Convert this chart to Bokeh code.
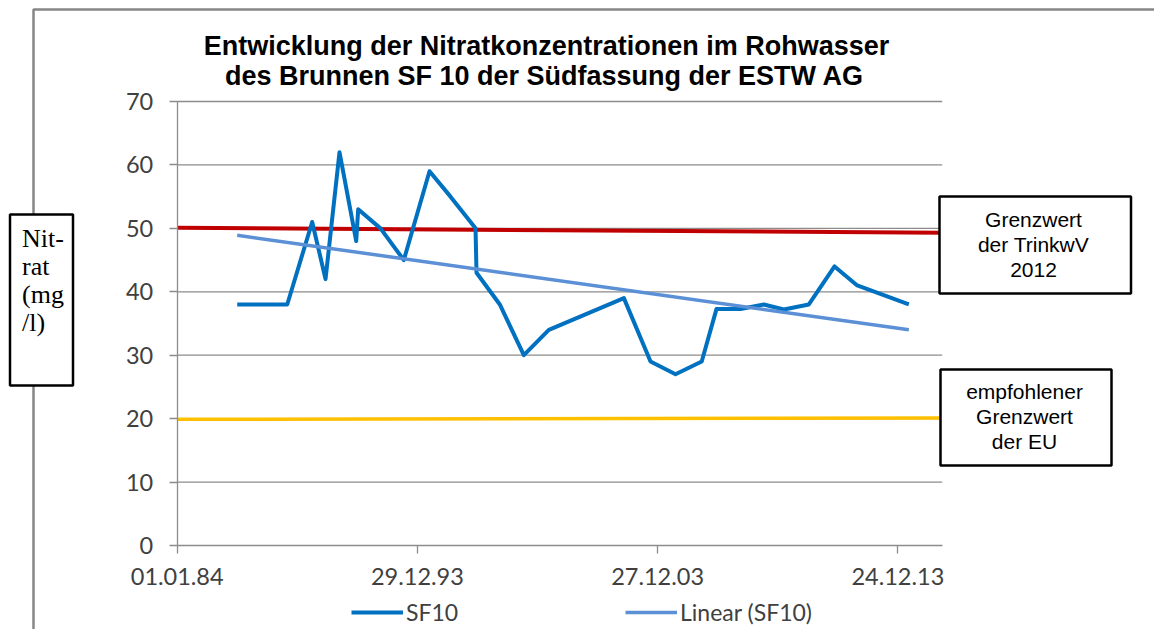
import pandas as pd
from bokeh.plotting import figure
from bokeh.models import (Range1d, FixedTicker, DatetimeTickFormatter, Label,
                          BoxAnnotation, Legend, LegendItem, ColumnDataSource)
from bokeh.embed import file_html
from bokeh.resources import INLINE

# ---------------- data ----------------
title_lines = ["Entwicklung der Nitratkonzentrationen im Rohwasser",
               "des Brunnen SF 10 der Südfassung der ESTW AG"]

sf10_dates = ["1986-07-01", "1988-07-30", "1989-08-13", "1990-03-04", "1990-10-02",
              "1991-06-13", "1991-07-13", "1992-06-16", "1993-06-05", "1994-07-01",
              "1995-05-16", "1996-05-30", "1996-06-14", "1997-06-03", "1998-06-03",
              "1999-06-18", "2002-08-01", "2003-09-10", "2004-09-24", "2005-10-27",
              "2006-06-09", "2007-06-09", "2008-05-28", "2009-03-28", "2010-04-12",
              "2011-05-07", "2012-04-16", "2014-06-09"]
sf10_values = [38, 38, 51, 42, 62,
               48, 53, 50, 45, 59,
               55, 50, 43, 38, 30,
               34, 39, 29, 27, 29,
               37.3, 37.3, 38, 37.2, 38,
               44, 41, 38]

trend_dates = ["1986-07-01", "2014-06-09"]
trend_values = [48.9, 34.0]

trinkwv_dates = ["1984-01-01", "2015-10-29"]
trinkwv_values = [50.1, 49.3]

eu_dates = ["1984-01-01", "2015-10-29"]
eu_values = [19.9, 20.1]

x_axis_dates = ["1984-01-01", "2015-10-29"]
x_tick_dates = ["1984-01-01", "1993-12-29", "2003-12-27", "2013-12-24"]
y_ticks = [0, 10, 20, 30, 40, 50, 60, 70]
y_axis_limits = [0, 70]

ylabel_lines = ["Nit-", "rat", "(mg", "/l)"]
box1_lines = ["Grenzwert", "der TrinkwV", "2012"]
box2_lines = ["empfohlener", "Grenzwert", "der EU"]
legend_labels = ["SF10", "Linear (SF10)"]

# ---------------- layout (pixel geometry of the chart) ----------------
W, H = 1154, 629
PX_LEFT, PX_RIGHT = 176.7, 941.7     # x-axis extent in canvas px
PX_BOTTOM, PX_TOP = 545.0, 101.0      # y = 0 and y = 70 in canvas px


def ms(d):
    return pd.Timestamp(d).value / 1e6


x0, x1 = ms(x_axis_dates[0]), ms(x_axis_dates[1])
mpp = (x1 - x0) / (PX_RIGHT - PX_LEFT)
y0, y1 = y_axis_limits
upp = (y1 - y0) / (PX_BOTTOM - PX_TOP)

p = figure(width=W, height=H, x_axis_type="datetime",
           x_range=Range1d(x0 - PX_LEFT * mpp, x0 + (W - PX_LEFT) * mpp),
           y_range=Range1d(y0 - (H - PX_BOTTOM) * upp, y0 + PX_BOTTOM * upp),
           output_backend="svg", toolbar_location=None,
           min_border=0, min_border_left=0, min_border_right=0,
           min_border_top=0, min_border_bottom=0)
p.outline_line_color = None
p.background_fill_color = "white"
p.border_fill_color = "white"
p.xgrid.visible = False
p.ygrid.visible = False


def sx(X):
    return X


def sy(Y):
    return H - Y


GRAY = "#8c8c8c"
TICKCOL = "#404040"

# axes, fixed at the data origin
xa, ya = p.xaxis[0], p.yaxis[0]
xa.fixed_location = y0
ya.fixed_location = x0
xa.bounds = (x0, x1)
ya.bounds = (y0, y1)
xa.ticker = FixedTicker(ticks=[ms(d) for d in x_tick_dates])
fmt = "%d.%m.%y"
xa.formatter = DatetimeTickFormatter(
    microseconds=fmt, milliseconds=fmt, seconds=fmt, minsec=fmt, minutes=fmt,
    hourmin=fmt, hours=fmt, days=fmt, months=fmt, years=fmt)
ya.ticker = FixedTicker(ticks=y_ticks)
for ax in (xa, ya):
    ax.axis_line_color = GRAY
    ax.axis_line_width = 1.3
    ax.major_tick_line_color = GRAY
    ax.major_tick_line_width = 1.3
    ax.major_tick_out = 8
    ax.major_tick_in = 0
    ax.minor_tick_line_color = None
    ax.major_label_text_font = "Lato"
    ax.major_label_text_font_size = "23.5px"
    ax.major_label_text_color = TICKCOL
ya.major_label_standoff = 16
xa.major_label_standoff = 14

# horizontal grid lines at the y ticks, spanning the x-axis extent
grid_y = [t for t in y_ticks if t > y0]
p.segment(x0=[x0] * len(grid_y), x1=[x1] * len(grid_y), y0=grid_y, y1=grid_y,
          line_color=GRAY, line_width=1.3)

# lines
r_trinkwv = p.line(x=[ms(d) for d in trinkwv_dates], y=trinkwv_values,
                   line_color="#C00000", line_width=4)
r_eu = p.line(x=[ms(d) for d in eu_dates], y=eu_values,
              line_color="#FFC000", line_width=3.5)
src = ColumnDataSource(dict(x=[ms(d) for d in sf10_dates], y=sf10_values))
r_sf10 = p.line("x", "y", source=src, line_color="#0070C0", line_width=4,
                line_join="round")
r_trend = p.line(x=[ms(d) for d in trend_dates], y=trend_values,
                 line_color="#5B8FD6", line_width=3.5)

# outer chart-area frame (top and left edges visible)
p.add_layout(BoxAnnotation(left=sx(33), right=sx(1400), top=sy(9), bottom=sy(900),
                           left_units="screen", right_units="screen",
                           top_units="screen", bottom_units="screen",
                           fill_color=None, line_color="#868686", line_alpha=1.0,
                           line_width=2.5))


def box(l, r, t, b):
    p.add_layout(BoxAnnotation(left=sx(l), right=sx(r), top=sy(t), bottom=sy(b),
                               left_units="screen", right_units="screen",
                               top_units="screen", bottom_units="screen",
                               fill_color="white", fill_alpha=1.0,
                               line_color="black", line_alpha=1.0, line_width=2.5))


box(9.5, 72.5, 214, 385)
box(939, 1130.5, 196, 293)
box(940, 1111, 369, 465)


def label(text, X, Y, font, size, align="center", bold=False, color="black"):
    p.add_layout(Label(x=sx(X), y=sy(Y), x_units="screen", y_units="screen",
                       text=text, text_font=font, text_font_size=size,
                       text_align=align, text_baseline="alphabetic",
                       text_font_style="bold" if bold else "normal",
                       text_color=color))


# title
label(title_lines[0], 546, 45, "Liberation Sans", "27px", bold=True)
label(title_lines[1], 544, 75.5, "Liberation Sans", "27px", bold=True)

# y axis label box
for t, Y in zip(ylabel_lines, [238, 266, 294, 322]):
    label(t, 21.5, Y, "Liberation Serif", "26px", align="left")

# annotation boxes
for t, Y in zip(box1_lines, [218.5, 244, 269]):
    label(t, 1033, Y, "Liberation Sans", "21px")
for t, Y in zip(box2_lines, [391, 416, 441]):
    label(t, 1024, Y, "Liberation Sans", "21px")

# legends (one per item, placed below the axis)
for r, txt, X in [(r_sf10, legend_labels[0], 351), (r_trend, legend_labels[1], 625)]:
    lg = Legend(items=[LegendItem(label=txt, renderers=[r])],
                location=(sx(X), sy(626)), orientation="horizontal",
                glyph_width=52, glyph_height=20, label_height=20,
                label_standoff=3, padding=0, margin=0, spacing=0,
                border_line_color=None, background_fill_alpha=0,
                label_text_font="Lato", label_text_font_size="23px",
                label_text_color=TICKCOL)
    p.add_layout(lg, "center")

open("out.html", "w").write(file_html(p, INLINE))
